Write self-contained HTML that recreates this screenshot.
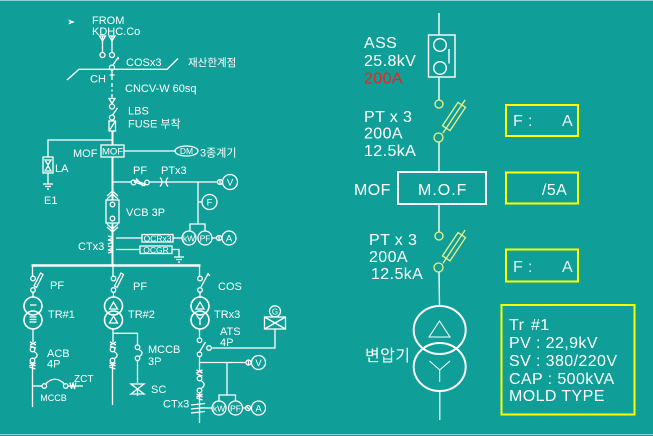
<!DOCTYPE html>
<html><head><meta charset="utf-8"><style>
html,body{margin:0;padding:0;background:#0f9f98;}
svg{display:block;}
text{font-family:"Liberation Sans","Noto Sans CJK KR",sans-serif;fill:#fff;}
.s{font-size:11px;}
.xs{font-size:8.5px;}
.b{font-size:16px;letter-spacing:0.4px;}
</style></head><body>
<svg width="653" height="436" viewBox="0 0 653 436" xmlns="http://www.w3.org/2000/svg">
<rect width="653" height="436" fill="#0f9f98"/>
<line x1="0" y1="0.5" x2="653" y2="0.5" stroke="#8fd3ce"/>
<line x1="0" y1="434.5" x2="653" y2="434.5" stroke="#8fd3ce"/>

<!-- ============ LEFT DIAGRAM ============ -->
<g stroke="#fff" stroke-width="1.3" fill="none">
  <polygon points="68,19.5 75,22 68,24.5 70,22" fill="#fff" stroke="none"/>
  <polygon points="99.5,36 105.5,36 102.5,41"/>
  <line x1="102.5" y1="36" x2="102.5" y2="52.5"/>
  <circle cx="102.5" cy="55" r="2.5"/>
  <polygon points="109,36 115,36 112,41"/>
  <line x1="112" y1="36" x2="112" y2="52.5"/>
  <circle cx="112" cy="55" r="2.5"/>
  <line x1="113" y1="65" x2="118.5" y2="57"/>
  <line x1="117" y1="58" x2="119" y2="59"/>
  <circle cx="112" cy="67.5" r="2.5"/>
  <polyline points="67,80 79,69.3 167,69.3 178,58.5"/>
  <line x1="112" y1="70" x2="112" y2="80"/>
  <line x1="109.5" y1="75" x2="114.5" y2="75"/>
  <line x1="112" y1="83" x2="112" y2="87"/>
  <line x1="112" y1="89.5" x2="112" y2="91.5"/>
  <line x1="112" y1="94" x2="112" y2="98.5"/>
  <polygon points="109,98.5 115,98.5 112,103.5"/>
  <circle cx="112" cy="106.5" r="2.5"/>
  <line x1="112.5" y1="115" x2="117.5" y2="108"/>
  <circle cx="112" cy="117.5" r="2.5"/>
  <rect x="109" y="121" width="6.5" height="10"/>
  <line x1="109" y1="131" x2="115.5" y2="121"/>
  <line x1="112.5" y1="131" x2="112.5" y2="145" stroke-width="2"/>
  <polyline points="48,157 48,140 112.5,140"/>
  <rect x="101" y="145" width="23" height="12"/>
  <line x1="124" y1="151" x2="175" y2="151"/>
  <ellipse cx="186.5" cy="151" rx="11.5" ry="5"/>
  <rect x="43" y="157" width="10" height="16"/>
  <polygon points="45,160 51,160 48,165"/>
  <polygon points="45,171 51,171 48,166"/>
  <line x1="48" y1="173" x2="48" y2="184"/>
  <line x1="43" y1="184" x2="53" y2="184"/>
  <line x1="45" y1="186.5" x2="51" y2="186.5"/>
  <line x1="47" y1="189" x2="49" y2="189"/>
  <line x1="112.5" y1="157" x2="112.5" y2="200" stroke-width="2"/>
  <line x1="112.5" y1="223" x2="112.5" y2="265" stroke-width="2"/>
  <line x1="112.5" y1="182" x2="131.2" y2="182"/>
  <circle cx="133.5" cy="182.5" r="2.3"/>
  <polygon points="135,180.5 145,184 144.5,185.5 134.5,182"/>
  <line x1="136" y1="178.5" x2="143" y2="186"/>
  <circle cx="147" cy="182.5" r="2.3"/>
  <line x1="149.3" y1="182" x2="217.5" y2="182"/>
  <path d="M160,177.5 Q164,182 160,186.5 M168,177.5 Q164,182 168,186.5"/>
  <circle cx="220" cy="182" r="2.5"/>
  <line x1="220" y1="179.5" x2="220" y2="184.5"/>
  <circle cx="230" cy="182" r="7.5"/>
  <line x1="198" y1="182" x2="198" y2="224"/>
  <line x1="198" y1="202" x2="202" y2="202"/>
  <circle cx="209.5" cy="202" r="7.5"/>
  <polyline points="190,231 190,224 205,224 205,231"/>
  <circle cx="189" cy="238" r="7"/>
  <circle cx="205" cy="238" r="7"/>
  <line x1="212" y1="238" x2="216.5" y2="238"/>
  <circle cx="219" cy="238" r="2.5"/>
  <line x1="219" y1="235.5" x2="219" y2="240.5"/>
  <circle cx="229" cy="238" r="7"/>
  <path d="M107,196 L112.5,191 L118,196 M107,199 L112.5,194 L118,199"/>
  <rect x="106" y="200" width="13" height="23"/>
  <circle cx="112.5" cy="204.5" r="2.3"/>
  <circle cx="112.5" cy="218.5" r="2.3"/>
  <path d="M107,224 L112.5,229 L118,224 M107,227 L112.5,232 L118,227"/>
  <path d="M108,236 Q116,237.5 108,240 Q116,241.5 108,244 M108,246 Q116,247.5 108,250 Q116,251.5 108,253"/>
  <line x1="116" y1="238" x2="142" y2="238"/>
  <rect x="142" y="234.5" width="31" height="7.5"/>
  <line x1="173" y1="238" x2="182" y2="238"/>
  <line x1="116" y1="249.5" x2="140" y2="249.5"/>
  <rect x="140" y="246" width="32" height="7.5"/>
  <polyline points="172,249.5 179,249.5 179,257"/>
  <line x1="174" y1="257" x2="184" y2="257"/>
  <line x1="176" y1="259.5" x2="182" y2="259.5"/>
  <line x1="178" y1="262" x2="180" y2="262"/>
  <line x1="31.5" y1="265.5" x2="200.5" y2="265.5" stroke-width="2.5"/>

  <line x1="32.5" y1="265" x2="32.5" y2="276"/>
  <circle cx="33" cy="278.5" r="2.3"/>
  <polygon points="34,286 40.5,273 43,274.5 36.5,287.5"/>
  <circle cx="33" cy="290" r="2.3"/>
  <line x1="33" y1="292.3" x2="33" y2="297"/>
  <circle cx="33" cy="306" r="9" stroke-width="1.6"/>
  <circle cx="33" cy="320" r="9" stroke-width="1.6"/>
  <line x1="30" y1="305" x2="36.5" y2="305"/>
  <line x1="29.5" y1="317" x2="36.5" y2="317"/>
  <line x1="29.5" y1="319.5" x2="36.5" y2="319.5"/>
  <line x1="29.5" y1="322" x2="36.5" y2="322"/>
  <line x1="33" y1="329" x2="33" y2="342"/>
  <path d="M30,342 L36,345 M30,345 L36,342 M30,346 L36,348"/>
  <circle cx="32.5" cy="349.5" r="2.3"/>
  <path d="M34,351.5 Q40,355 34.5,358.5"/>
  <circle cx="32.5" cy="360.5" r="2.3"/>
  <path d="M29.5,363 L35.5,366 M29.5,366 L35.5,363 M29.5,367 L35.5,369"/>
  <line x1="32.5" y1="363" x2="32.5" y2="407"/>
  <line x1="32.5" y1="386" x2="42" y2="386"/>
  <circle cx="44.3" cy="386" r="2.3"/>
  <path d="M46,383.5 Q55,375 64,383.5"/>
  <circle cx="65.7" cy="386" r="2.3"/>
  <line x1="68" y1="386" x2="83" y2="386"/>
  <path d="M70,382.5 L71.5,389 L73,382.5 L74.5,389 L76,382.5"/>

  <line x1="113" y1="265" x2="113" y2="276"/>
  <circle cx="113.5" cy="278.5" r="2.3"/>
  <polygon points="114.5,286 121,273 123.5,274.5 117,287.5"/>
  <circle cx="113.5" cy="290" r="2.3"/>
  <line x1="113.5" y1="292.3" x2="113.5" y2="297"/>
  <circle cx="113.5" cy="306" r="9" stroke-width="1.6"/>
  <circle cx="113.5" cy="320" r="9" stroke-width="1.6"/>
  <polygon points="109.5,309 117.5,309 113.5,302"/>
  <polygon points="109.5,323 117.5,323 113.5,316"/>
  <line x1="113" y1="329" x2="113" y2="342"/>
  <path d="M110,342 L116,345 M110,345 L116,342 M110,346 L116,348"/>
  <circle cx="112.5" cy="349.5" r="2.3"/>
  <path d="M114,351.5 Q120,355 114.5,358.5"/>
  <circle cx="112.5" cy="360.5" r="2.3"/>
  <path d="M109.5,363 L115.5,366 M109.5,366 L115.5,363 M109.5,367 L115.5,369"/>
  <line x1="112.5" y1="363" x2="112.5" y2="405"/>
  <polyline points="113,333.3 137.5,333.3 137.5,345"/>
  <circle cx="137.5" cy="347.3" r="2.3"/>
  <path d="M139,349.5 Q145,353 139.3,356.5"/>
  <circle cx="137.5" cy="358.3" r="2.3"/>
  <line x1="137.5" y1="360.6" x2="137.5" y2="383"/>
  <polygon points="131,384 144,384 137.5,389"/>
  <polygon points="131,394 144,394 137.5,389"/>
  <line x1="137.5" y1="389" x2="137.5" y2="396"/>

  <line x1="199.5" y1="265" x2="199.5" y2="276"/>
  <circle cx="200" cy="278.5" r="2.3"/>
  <line x1="201" y1="287" x2="208.5" y2="273"/>
  <line x1="207" y1="274" x2="210" y2="275.5"/>
  <circle cx="200" cy="290" r="2.3"/>
  <line x1="200" y1="292.3" x2="200" y2="297"/>
  <circle cx="200" cy="306" r="9" stroke-width="1.6"/>
  <circle cx="200" cy="320" r="9" stroke-width="1.6"/>
  <polygon points="196,309 204,309 200,302"/>
  <path d="M196.5,315.5 L200,319.5 L203.5,315.5 M200,319.5 L200,325"/>
  <line x1="199.5" y1="329" x2="199.5" y2="338"/>
  <circle cx="199.5" cy="340.3" r="2.3"/>
  <line x1="199.5" y1="352" x2="205.5" y2="342"/>
  <circle cx="209" cy="348" r="2.3"/>
  <polyline points="211.3,348 275,348 275,329"/>
  <rect x="264.5" y="317" width="21" height="12"/>
  <path d="M264.5,317 L285.5,329 M285.5,317 L264.5,329"/>
  <circle cx="275" cy="311.3" r="5.5"/>
  <circle cx="199.5" cy="354.3" r="2.3"/>
  <line x1="199.5" y1="356.6" x2="199.5" y2="371"/>
  <line x1="199.5" y1="362.5" x2="246" y2="362.5"/>
  <circle cx="248.5" cy="362.5" r="2.5"/>
  <line x1="248.5" y1="360" x2="248.5" y2="365"/>
  <circle cx="258.5" cy="362.5" r="7"/>
  <line x1="227" y1="362.5" x2="227" y2="395"/>
  <polyline points="219,401 219,395 235.5,395 235.5,401"/>
  <circle cx="219" cy="408" r="7"/>
  <circle cx="235.5" cy="408" r="7"/>
  <line x1="242.5" y1="408" x2="245.5" y2="408"/>
  <circle cx="248" cy="408" r="2.5"/>
  <line x1="246" y1="406" x2="250" y2="410"/>
  <circle cx="258.5" cy="408" r="7"/>
  <path d="M196.5,370 L202.5,373 M196.5,373 L202.5,370 M196.5,374 L202.5,376"/>
  <circle cx="199.5" cy="378.5" r="2.3"/>
  <path d="M201,380.5 Q207,384.5 201.3,388.5"/>
  <circle cx="199.5" cy="390.5" r="2.3"/>
  <path d="M196.5,394 L202.5,397 M196.5,397 L202.5,394 M196.5,398 L202.5,400"/>
  <line x1="199.5" y1="393" x2="199.5" y2="423"/>
  <line x1="199.5" y1="408" x2="212" y2="408"/>
  <path d="M191,405 L205,403.5 M191,409 L205,407.5 M191,413 L205,411.5"/>
</g>

<g class="s">
  <text x="92" y="24">FROM</text>
  <text x="92" y="35">KDHC.Co</text>
  <text x="126" y="66">COSx3</text>
  <text x="188" y="66" style="font-size:10.5px">재산한계점</text>
  <text x="90" y="82.5">CH</text>
  <text x="125" y="92">CNCV-W 60sq</text>
  <text x="128" y="114.5">LBS</text>
  <text x="128" y="127.5">FUSE 부착</text>
  <text x="73" y="157">MOF</text>
  <text x="200" y="156.5">3종계기</text>
  <text x="55" y="172">LA</text>
  <text x="44" y="204">E1</text>
  <text x="133" y="174">PF</text>
  <text x="161" y="174">PTx3</text>
  <text x="126" y="216">VCB 3P</text>
  <text x="78" y="250">CTx3</text>
  <text x="50" y="289">PF</text>
  <text x="133" y="290">PF</text>
  <text x="218" y="290">COS</text>
  <text x="48" y="318">TR#1</text>
  <text x="128" y="318">TR#2</text>
  <text x="214" y="318">TRx3</text>
  <text x="47" y="357">ACB</text>
  <text x="47" y="367.5">4P</text>
  <text x="148" y="353">MCCB</text>
  <text x="148" y="365">3P</text>
  <text x="220" y="335">ATS</text>
  <text x="220" y="346">4P</text>
  <text x="74" y="382" style="font-size:10px">ZCT</text>
  <text x="151" y="393">SC</text>
  <text x="163" y="407.5">CTx3</text>
</g>
<g class="xs" text-anchor="middle">
  <text x="112.5" y="154.5" style="font-size:9.5px">MOF</text>
  <text x="186.5" y="154">DM</text>
  <text x="157.5" y="241.5">OCRx3</text>
  <text x="156" y="253">OCGR</text>
  <text x="230" y="185.5" style="font-size:9.5px">V</text>
  <text x="209.5" y="205.5" style="font-size:9.5px">F</text>
  <text x="189" y="241.5">kW</text>
  <text x="205" y="241.5">PF</text>
  <text x="229" y="241.5" style="font-size:9.5px">A</text>
  <text x="275" y="314.5" style="font-size:8px">G</text>
  <text x="258.5" y="366" style="font-size:9.5px">V</text>
  <text x="219" y="411.5">kW</text>
  <text x="235.5" y="411.5">PF</text>
  <text x="258.5" y="411.5" style="font-size:9.5px">A</text>
  <text x="53.5" y="401" style="font-size:9px">MCCB</text>
</g>

<!-- ============ RIGHT DIAGRAM ============ -->
<g stroke="#fff" stroke-width="1.4" fill="none">
  <line x1="439" y1="13" x2="439" y2="35"/>
  <rect x="428.5" y="35" width="26.5" height="42"/>
  <circle cx="440" cy="45" r="6.3"/>
  <circle cx="440" cy="68" r="6.3"/>
  <line x1="449" y1="49" x2="449" y2="63.5"/>
  <line x1="439" y1="77" x2="439" y2="100"/>
  <line x1="439" y1="142" x2="439" y2="172"/>
  <rect x="398" y="172" width="88" height="32" stroke-width="2"/>
  <line x1="439" y1="204" x2="439" y2="232"/>
  <line x1="439" y1="272" x2="439.5" y2="306"/>
  <ellipse cx="439.7" cy="330" rx="26" ry="24" stroke-width="2"/>
  <ellipse cx="439.7" cy="367" rx="26" ry="24" stroke-width="2"/>
  <polygon points="429,337 450,337 439.5,321" stroke-width="1"/>
  <path d="M429.5,361 L439.7,370 L450,361 M439.7,370 L439.7,382" stroke-width="1"/>
  <line x1="439.7" y1="391" x2="439.7" y2="420"/>
</g>
<g stroke="#f0f08a" stroke-width="1.3" fill="none">
  <circle cx="439" cy="104" r="4"/>
  <g transform="translate(454,116.5) rotate(-56.3)">
    <line x1="-20" y1="0" x2="20" y2="0"/>
    <rect x="-14" y="-4.5" width="28" height="9"/>
  </g>
  <circle cx="438.5" cy="137.5" r="4.5"/>
  <circle cx="439" cy="236" r="4"/>
  <g transform="translate(454,246.7) rotate(-56.3)">
    <line x1="-20" y1="0" x2="20" y2="0"/>
    <rect x="-14" y="-4.5" width="28" height="9"/>
  </g>
  <circle cx="438.5" cy="267.5" r="4.5"/>
</g>
<g stroke="#ffff00" stroke-width="2" fill="none">
  <rect x="506" y="105" width="72" height="31"/>
  <rect x="506" y="172.5" width="72" height="31"/>
  <rect x="506" y="249.5" width="72" height="32"/>
  <rect x="501.5" y="305" width="133" height="109.5"/>
</g>

<g class="b">
  <text x="364" y="48">ASS</text>
  <text x="364" y="66">25.8kV</text>
  <text x="364" y="83.5" style="fill:#ff1a1a">200A</text>
  <text x="364" y="122">PT x 3</text>
  <text x="364" y="138.5">200A</text>
  <text x="364" y="156">12.5kA</text>
  <text x="354" y="195">MOF</text>
  <text x="418" y="195" style="letter-spacing:1px">M.O.F</text>
  <text x="542" y="195">/5A</text>
  <text x="369" y="245">PT x 3</text>
  <text x="369" y="262">200A</text>
  <text x="371" y="279">12.5kA</text>
  <text x="365" y="361">변압기</text>
  <text x="513" y="126" style="fill:#e4f2f1">F :</text>
  <text x="562" y="126" style="fill:#e4f2f1">A</text>
  <text x="513" y="272" style="fill:#e4f2f1">F :</text>
  <text x="562" y="272" style="fill:#e4f2f1">A</text>
  <text x="509" y="330">Tr</text>
  <text x="531" y="330">#1</text>
  <text x="509" y="348">PV : 22,9kV</text>
  <text x="509" y="366">SV : 380/220V</text>
  <text x="509" y="384">CAP : 500kVA</text>
  <text x="509" y="401">MOLD TYPE</text>
</g>
</svg>
</body></html>
